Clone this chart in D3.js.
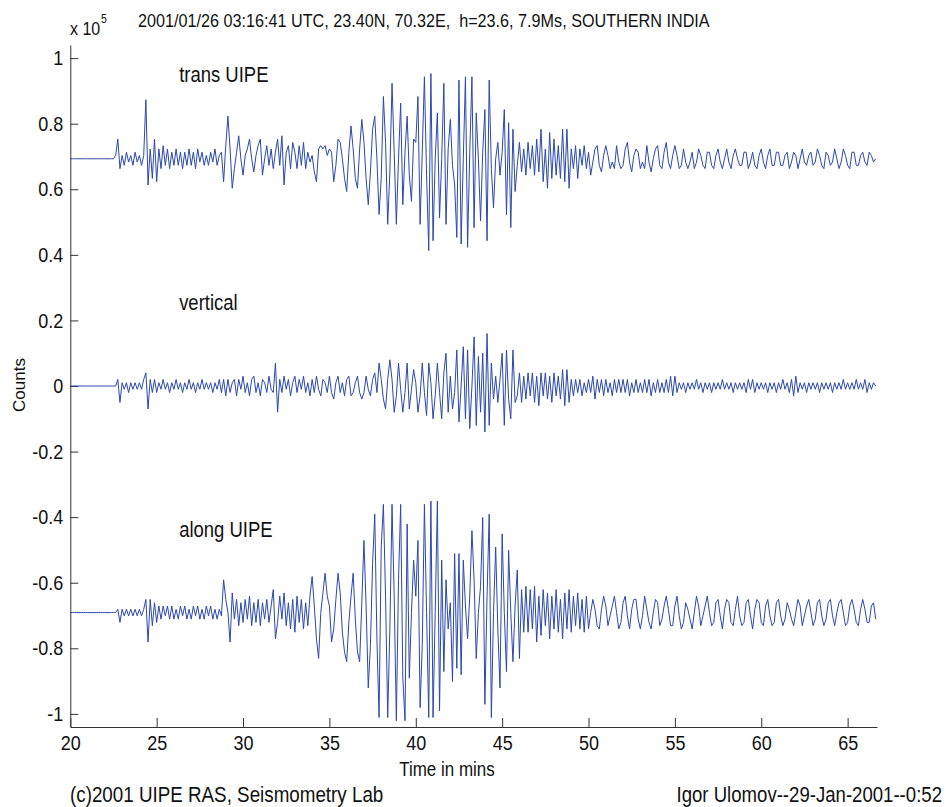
<!DOCTYPE html>
<html>
<head>
<meta charset="utf-8">
<script src="https://d3js.org/d3.v7.min.js"></script>
<style>
  body { margin: 0; background: #ffffff; }
  text { font-family: "Liberation Sans", Arial, sans-serif; fill: #111111; white-space: pre; }
  .axis path, .axis line { stroke: #333333; stroke-width: 1; }
</style>
</head>
<body>
<div id="chart"></div>
<script>
// ---------------------------------------------------------
// DATA
// ---------------------------------------------------------

// samples start at 20 min, one every 1/8 min (one row per minute)
var startMin = 20;
var stepMin = 0.125;

// trace baselines and deviations are in thousands of counts
var transBase = 69.3;
var verticalBase = 0;
var alongBase = -69.1;

var transUIPE = [
  0, 0, 0, 0, 0, 0, 0, 0,
  0, 0, 0, 0, 0, 0, 0, 0,
  0, 0, 0, 0, 0, 1, 6, -3,
  1, -2, 2, -1, 1, -2, 2, -1,
  1, -2, 1, 18, -8, 3, -6, 6,
  -7, 3, -3, 4, -2, 3, -3, 2,
  -2, 3, -2, 2, -3, 2, -2, 3,
  -2, 2, -3, 3, -1, 2, -2, 1,
  -2, 2, -1, 3, -2, 1, 2, -7,
  4, 13, 3, -9, -3, 2, 7, 0,
  -5, 1, 3, 6, 0, -4, 1, 4,
  6, -5, 0, 4, -2, 3, -3, 2,
  6, -2, 7, -8, 2, 4, -3, 5,
  2, -3, 4, -2, 5, -3, 2, -1,
  1, -4, -7, 3, 4, 3, 4, 1,
  3, 2, -7, -2, 6, 5, 0, -6,
  -10, 2, 10, 3, -6, -9, 3, 12,
  5, -6, -14, -4, 9, 13, 0, -17,
  -6, 19, 5, -20, -4, 23, 2, -20,
  0, 17, -14, 2, 13, -5, -13, 6,
  5, 19, -20, 2, 25, -5, -28, 26,
  -25, 0, 14, -18, 0, 23, -20, 3,
  12, -2, -8, -24, 24, -26, 0, 25,
  -27, 2, 25, -21, 14, 0, -19, 2,
  15, -25, 24, -3, -15, 0, 5, -5,
  2, 15, -17, 11, -21, 9, -10, -2,
  5, -4, 3, -5, 5, -3, 4, -5,
  6, -4, 9, -7, 3, -9, 8, -6,
  6, -5, 4, -6, 9, -7, 9, -9,
  3, -3, 4, -6, 3, -2, 4, -3,
  2, -5, -1, 3, 4, -2, -4, 1,
  4, 1, -3, -1, -3, 4, -1, -3,
  -2, 3, 5, -1, -4, 1, 3, 2,
  -3, -1, -3, 4, -1, -4, 0, 3,
  4, -2, -3, 2, 5, -1, -3, 1,
  4, 1, -3, -2, 3, -1, -3, -1,
  2, -3, -1, 3, 1, -2, -3, 2,
  2, -2, -3, 1, 3, -1, -3, 0,
  3, -1, -3, 1, 3, 0, -2, -2,
  2, 2, -3, -1, 2, -2, -3, 1,
  3, -1, -3, 1, 3, -2, -2, 2,
  2, -2, -2, 1, 2, -3, -1, 2,
  1, -3, 0, 3, -1, -2, 1, 2,
  -2, -1, 3, 1, -2, -3, 2, 1,
  -2, -1, 3, 0, -3, -1, 3, 1,
  -2, -3, 2, 2, -2, -2, 1, 2,
  -1, -2, 2, 1, -1, 0
];

var verticalUIPE = [
  0, 0, 0, 0, 0, 0, 0, 0,
  0, 0, 0, 0, 0, 0, 0, 0,
  0, 0, 0, 0, 0, 0, 2, -5,
  1, -1, 1, -2, 1, -1, 1, -1,
  1, -1, 2, 4, -7, 2, -2, 2,
  -2, 1, -1, 2, -1, 1, -2, 1,
  -1, 2, -1, 1, -2, 1, -1, 2,
  -1, 1, -2, 1, -1, 2, -1, 1,
  -1, 1, -2, 1, -1, 2, -2, 2,
  -3, 2, -2, 1, 2, -3, 2, -1,
  3, -2, 1, -3, 2, 3, -2, 1,
  -3, 2, 1, -2, 3, -1, -2, 7,
  -8, 2, -2, 3, -1, 2, -3, 1,
  3, -2, 2, -1, 3, -2, 1, -3,
  2, -2, 3, -1, -3, 2, 1, -2,
  3, -2, -4, 1, 3, -2, 1, -3,
  2, 3, -3, -2, 1, 3, -2, -4,
  -2, 3, -1, -3, 2, 4, -2, 7,
  2, -4, -7, 2, 8, 2, -8, -3,
  7, -1, -8, -2, 7, -7, -1, 5,
  1, -8, -3, 7, -2, -9, 7, 1,
  -10, -3, 7, -2, -10, 4, 10, -8,
  3, -7, -2, 11, -11, 0, 12, -10,
  11, -13, 0, 15, -12, 9, -8, 10,
  -14, 16, -12, 7, -4, 3, -5, 2,
  10, -12, 11, -4, -10, 11, -5, -3,
  4, -5, 3, -4, 4, -3, 4, -5,
  3, -6, 4, -3, 4, -4, 3, -5,
  4, -3, 3, -4, 5, -6, 5, -5,
  2, -3, 2, -2, 2, -3, 1, -2,
  2, -2, 3, -4, 2, -2, 2, -3,
  2, -2, 1, -3, 2, -2, 2, -2,
  2, -2, 2, -3, 1, -2, 2, -2,
  1, -2, 2, -2, 2, -3, 1, -2,
  2, -2, 1, -2, 2, -2, 3, -3,
  3, -2, 1, -1, 1, -2, 1, -1,
  1, -1, 2, -1, 1, -2, 1, -1,
  1, -2, 1, -1, 1, -1, 2, -1,
  1, -1, 1, -2, 1, -1, 1, -1,
  1, -2, 2, -1, 2, -2, 1, -1,
  1, -1, 1, -2, 1, -1, 1, -2,
  1, -1, 2, -1, 1, -2, 2, -3,
  3, -2, 1, -1, 1, -2, 1, -1,
  1, -1, 1, -2, 1, -1, 1, -1,
  1, -2, 1, -1, 1, -1, 2, -1,
  1, -1, 1, -1, 2, -1, 1, -1,
  2, -2, 1, -1, 1, 0
];

var alongUIPE = [
  0, 0, 0, 0, 0, 0, 0, 0,
  0, 0, 0, 0, 0, 0, 0, 0,
  0, 0, 0, 0, 0, 0, 1, -3,
  1, -1, 1, -1, 1, -1, 1, -1,
  1, -1, 1, 4, -9, 4, -4, 3,
  -3, 2, -2, 2, -1, 2, -2, 2,
  -2, 1, -2, 2, -1, 2, -2, 1,
  -2, 2, -1, 2, -2, 1, -2, 2,
  -1, 2, -2, 1, -2, 1, -1, 10,
  4, 0, -9, 6, -2, 4, -4, 3,
  -3, 4, -2, 5, -4, 3, -3, 4,
  -4, 3, -2, 4, -3, 2, 7, -8,
  -3, 5, -2, 6, -4, 3, -5, 4,
  -6, 5, -3, 4, -5, 3, -4, 5,
  11, 2, -8, -14, 0, 6, 12, 5,
  2, -9, -5, 4, 12, 6, -6, -12,
  -15, -3, 5, 12, -2, -12, -15, 3,
  22, 2, -23, -10, 15, 30, -8, -32,
  20, 33, 5, -32, -5, 33, 5, -33,
  10, 33, -20, -33, 27, -20, 0, 16,
  5, 22, -29, -10, 33, 0, -32, 34,
  -32, 0, 34, -30, 16, -18, 10, -5,
  3, -21, 18, -17, 18, -19, 16, 2,
  -8, 5, 25, 10, -14, 0, 8, 29,
  -28, 5, 30, -32, 0, 20, -5, -23,
  24, 0, -18, 19, 0, -15, 2, 13,
  -14, 7, -6, 8, -6, 7, -5, 8,
  -9, 5, -7, 7, -4, 6, -8, 5,
  -5, 7, -6, 4, -8, 6, -5, 7,
  -6, 5, -4, 6, -5, 4, -6, 5,
  -5, 0, 4, 1, -4, -5, 1, 5,
  2, -4, -1, 2, 5, 0, -5, -3,
  3, 5, -1, -5, 1, 4, 4, -2,
  -5, -1, 5, 1, -3, -5, 0, 4,
  3, -4, -2, 2, 5, 1, -4, -4,
  2, 5, -1, -5, -3, 3, 1, -2,
  -5, 0, 5, 2, -4, -1, 2, 5,
  0, -4, -3, 3, 4, -1, -5, 1,
  4, 3, -3, -4, 1, 5, -1, -4,
  -3, 3, 4, -1, -5, 1, 4, 3,
  -3, -4, 2, 4, -1, -4, -3, 3,
  4, -1, -4, -2, 3, 1, -2, -4,
  0, 4, 2, -4, -1, 2, 4, 0,
  -4, -2, 3, 4, -1, -4, -2, 3,
  4, -1, -4, 0, 3, 4, 0, -4,
  -3, 2, 4, 1, -3, -4, 1, 4,
  1, -3, -3, 2, 3, -2
];

var traceNames = ["trans UIPE", "vertical", "along UIPE"];
var xTicks = [20, 25, 30, 35, 40, 45, 50, 55, 60, 65];
var yTicks = [-1, -0.8, -0.6, -0.4, -0.2, 0, 0.2, 0.4, 0.6, 0.8, 1];

var titleText = "2001/01/26 03:16:41 UTC, 23.40N, 70.32E,  h=23.6, 7.9Ms, SOUTHERN INDIA";
var footLeft = "(c)2001 UIPE RAS, Seismometry Lab";
var footRight = "Igor Ulomov--29-Jan-2001--0:52";

// ---------------------------------------------------------
// SET UP PARAMETERS
// ---------------------------------------------------------

var svgWidth = 946;
var svgHeight = 807;

var margin = { top: 45, right: 69, bottom: 80, left: 70.3 };
var width = svgWidth - margin.left - margin.right;
var height = svgHeight - margin.top - margin.bottom;

// the old bitmap fonts look a bit taller than Arial
var stretch = 1.15;

var svg = d3.select("#chart")
  .append("svg")
  .attr("width", svgWidth)
  .attr("height", svgHeight);

var chartGroup = svg.append("g")
  .attr("transform", `translate(${margin.left}, ${margin.top})`);

var xScale = d3.scaleLinear().domain([20, 66.7]).range([0, width]);
// y axis is in units of 10^5 counts
var yScale = d3.scaleLinear().domain([-1.04, 1.04]).range([height, 0]);

function addText(parent, x, y, str, size, anchor) {
  return parent.append("text")
    .attr("transform", `translate(${x}, ${y}) scale(1, ${stretch})`)
    .attr("text-anchor", anchor || "start")
    .style("font-size", size + "px")
    .text(str);
}

// ---------------------------------------------------------
// AXES
// ---------------------------------------------------------

// plain hyphen minus, like the original plot
var leftAxis = d3.axisLeft(yScale)
  .tickValues(yTicks)
  .tickSizeInner(-8)
  .tickSizeOuter(0)
  .tickPadding(7)
  .tickFormat(d => String(+d.toFixed(1)));

var bottomAxis = d3.axisBottom(xScale)
  .tickValues(xTicks)
  .tickSizeInner(-9)
  .tickSizeOuter(0)
  .tickPadding(9);

var yAxisG = chartGroup.append("g").attr("class", "axis").call(leftAxis);
var xAxisG = chartGroup.append("g").attr("class", "axis")
  .attr("transform", `translate(0, ${height})`)
  .call(bottomAxis);

[yAxisG, xAxisG].forEach(function(g) {
  g.selectAll("text")
    .attr("fill", "#111")
    .style("font-size", "18px")
    .style("font-family", '"Liberation Sans", Arial, sans-serif')
    .attr("transform", `scale(1, ${stretch})`);
});
xAxisG.selectAll("text").attr("dy", "0.62em");

// ---------------------------------------------------------
// TRACES
// ---------------------------------------------------------

var traces = [
  { values: transUIPE, base: transBase },
  { values: verticalUIPE, base: verticalBase },
  { values: alongUIPE, base: alongBase }
];

var line = d3.line()
  .x((d, i) => xScale(startMin + i * stepMin))
  .y(d => yScale(d));

traces.forEach(function(tr) {
  var pts = tr.values.map(v => (tr.base + v) / 100);
  chartGroup.append("path")
    .datum(pts)
    .attr("fill", "none")
    .attr("stroke", "#2b48ac")
    .attr("stroke-width", 1)
    .attr("stroke-linejoin", "round")
    .attr("d", line);
});

// trace names
var labelY = [0.928, 0.232, -0.46];
traceNames.forEach(function(name, i) {
  addText(chartGroup, xScale(26.3), yScale(labelY[i]), name, 18.5, "start");
});

// ---------------------------------------------------------
// TITLES AND NOTES
// ---------------------------------------------------------

addText(svg, 138, 27, titleText, 16.2, "start");
addText(svg, 70, 35, "x 10", 16, "start");
addText(svg, 101, 23, "5", 10.5, "start");

addText(svg, 447, 776, "Time in mins", 17, "middle");

svg.append("text")
  .attr("transform", "translate(25, 385) rotate(-90)")
  .attr("text-anchor", "middle")
  .style("font-size", "17px")
  .text("Counts");

addText(svg, 70, 802, footLeft, 18.8, "start");
addText(svg, 942, 802, footRight, 18.6, "end");
</script>
</body>
</html>
